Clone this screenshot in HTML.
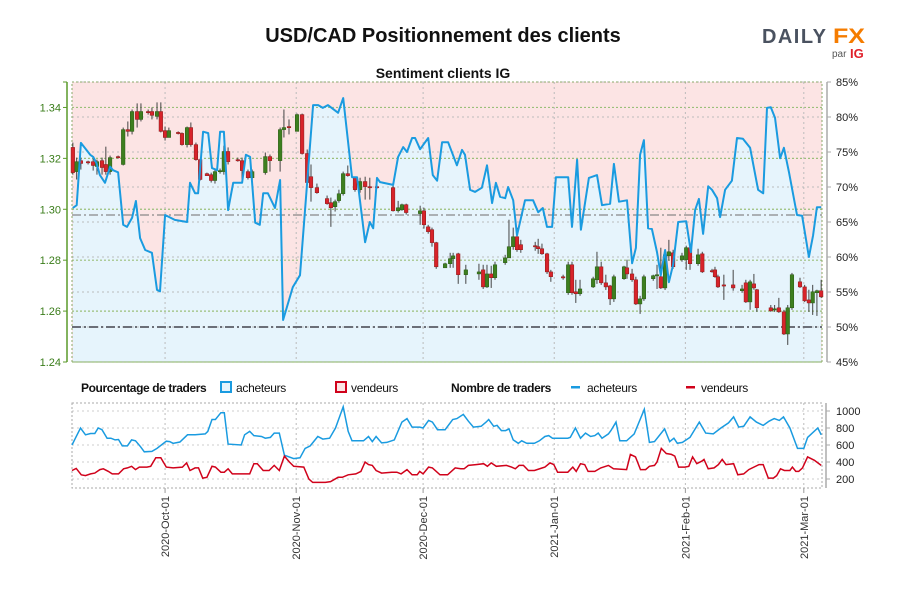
<!DOCTYPE html>
<html><head><meta charset="utf-8"><style>
body{margin:0;background:#fff;width:900px;height:600px;overflow:hidden;font-family:"Liberation Sans",sans-serif}
svg{display:block}
</style></head><body>
<svg id="chart" width="900" height="600" viewBox="0 0 900 600" xmlns="http://www.w3.org/2000/svg">
<text x="443" y="42" text-anchor="middle" font-size="20" font-weight="bold" fill="#111">USD/CAD Positionnement des clients</text>
<g>
<text x="762" y="43" font-size="20" font-weight="bold" fill="#4a5260" textLength="64" lengthAdjust="spacing">DAILY</text>
<text x="833" y="43" font-size="21" font-weight="bold" fill="#f57c00" textLength="32" lengthAdjust="spacingAndGlyphs">FX</text>
<text x="832" y="57" font-size="10" fill="#555">par</text>
<text x="850" y="58" font-size="13" font-weight="bold" fill="#e0202a">IG</text>
</g>
<text x="443" y="78" text-anchor="middle" font-size="14" font-weight="bold" fill="#111">Sentiment clients IG</text>
<g id="main"></g>
<g id="bottom"></g>
<g font-size="12" fill="#111">
<text x="81" y="392" font-weight="bold" letter-spacing="-0.4">Pourcentage de traders</text>
<rect x="221" y="382" width="10" height="10" fill="#e6f4fc" stroke="#1a9be0" stroke-width="2"/>
<text x="236" y="392" letter-spacing="-0.3">acheteurs</text>
<rect x="336" y="382" width="10" height="10" fill="#fce4e4" stroke="#d0021b" stroke-width="2"/>
<text x="351" y="392" letter-spacing="-0.3">vendeurs</text>
<text x="451" y="392" font-weight="bold" letter-spacing="-0.4">Nombre de traders</text>
<rect x="571" y="386" width="9" height="2.5" fill="#1a9be0"/>
<text x="587" y="392" letter-spacing="-0.3">acheteurs</text>
<rect x="686" y="386" width="9" height="2.5" fill="#d0021b"/>
<text x="701" y="392" letter-spacing="-0.3">vendeurs</text>
</g>
</svg>
<script>
// day 0 = 2020-09-09
const sentDays=[0.2,1.1,2.1,4.3,5.0,5.8,6.6,7.8,9.0,9.7,10.9,12.1,13.0,14.2,15.1,16.1,17.3,18.9,20.1,20.8,22.0,24.3,27.2,27.9,29.1,29.8,31.0,32.2,33.1,34.3,35.0,35.9,36.9,38.1,40.2,41.1,42.1,43.3,44.4,45.2,46.3,48.0,49.2,49.9,52.2,53.9,55.6,57.0,58.2,59.3,60.5,62.9,64.1,66.2,67.4,69.3,70.4,71.2,72.1,72.8,75.9,77.1,78.3,79.2,80.4,81.1,82.3,84.2,85.3,86.3,87.5,88.9,91.0,92.2,92.9,94.1,95.3,96.9,98.1,99.3,100.2,101.2,102.4,103.1,104.3,105.2,107.1,109.0,110.2,111.3,112.3,113.5,114.4,117.3,118.2,119.4,120.3,122.2,124.1,125.3,127.2,128.1,129.3,131.2,132.4,133.3,134.3,135.2,136.2,137.1,138.3,139.2,140.2,141.1,142.1,143.3,145.2,146.3,147.3,148.2,149.2,150.4,151.3,152.5,153.2,154.4,156.0,157.2,158.6,160.3,162.2,163.4,164.3,165.2,166.2,167.4,168.3,169.5,171.4,172.6,174.2,175.2,176.1,177.1];
const sentPct=[67.0,67.4,76.3,74.6,74.3,73.4,71.7,70.6,72.9,72.4,72.1,64.6,64.3,65.6,68.0,62.7,61.0,60.6,55.3,55.1,66.0,65.3,65.0,70.6,69.1,69.1,77.9,77.7,72.7,72.4,77.9,77.9,66.7,70.6,70.6,74.6,74.3,64.9,64.6,69.1,69.1,67.0,71.0,51.0,55.7,57.4,70.7,81.7,81.7,81.3,81.7,80.6,82.7,71.4,71.4,62.1,65.0,64.1,71.3,70.7,70.3,74.3,75.7,75.0,77.0,77.0,75.4,77.0,71.7,70.9,76.4,76.4,73.1,75.3,74.6,69.6,69.3,69.9,73.1,67.7,70.6,68.6,68.4,70.0,68.1,63.1,68.1,68.1,66.4,67.0,64.3,64.3,71.4,71.4,64.3,73.9,63.9,71.3,71.7,67.4,67.6,73.3,67.9,68.1,59.1,61.3,74.6,76.7,64.1,64.0,60.7,57.4,61.0,56.4,58.9,65.0,65.1,60.7,66.7,68.3,63.3,70.1,69.6,68.4,65.7,69.6,70.9,77.0,76.9,75.6,69.6,69.1,81.3,81.4,79.9,74.1,75.6,72.1,66.0,65.9,60.0,63.1,67.1,67.1];
const candleDays=[0.2,1.1,2.1,3.8,5.0,5.9,7.1,8.0,9.0,10.9,12.1,13.2,14.2,15.4,16.3,18.0,18.9,20.1,21.0,22.0,22.9,25.1,26.0,27.2,28.1,29.3,30.3,31.9,32.9,33.8,35.0,35.9,36.9,39.2,40.2,41.6,42.6,45.7,46.8,49.2,50.1,51.3,53.2,54.4,55.6,56.5,57.9,60.3,61.2,62.2,63.1,64.1,65.2,66.9,68.1,69.3,70.4,72.1,75.9,77.1,78.0,79.0,82.3,83.2,84.2,85.1,86.1,88.2,89.4,90.1,91.3,93.1,96.2,97.2,98.1,99.1,100.0,102.4,103.3,104.3,105.2,106.1,109.5,110.2,111.1,112.3,113.2,116.1,117.3,118.2,119.1,120.1,123.2,124.1,125.1,126.2,127.2,128.1,130.5,131.2,132.4,133.3,134.3,135.2,137.4,138.3,139.2,140.2,141.1,142.1,144.2,145.2,146.1,148.0,149.0,151.3,152.0,152.7,154.1,156.3,158.4,159.3,160.3,161.2,161.9,165.2,166.1,167.1,168.3,169.2,170.2,172.1,173.2,174.2,175.1,176.1,177.1];
const candleOpen=[1.3243,1.3148,1.3191,1.3187,1.3187,1.3168,1.3191,1.3176,1.3148,1.3207,1.3176,1.3313,1.3306,1.3384,1.3353,1.3384,1.3384,1.3365,1.3384,1.3309,1.3282,1.3302,1.3298,1.3254,1.3321,1.3254,1.3195,1.3140,1.3136,1.3113,1.3148,1.3148,1.3227,1.3195,1.3191,1.3148,1.3124,1.3144,1.3207,1.3191,1.3313,1.3325,1.3306,1.3372,1.3219,1.3128,1.3085,1.3042,1.3026,1.3010,1.3034,1.3061,1.3140,1.3124,1.3077,1.3109,1.3089,1.3089,1.3085,1.2994,1.2998,1.3018,1.2983,1.2994,1.2931,1.2920,1.2869,1.2770,1.2786,1.2806,1.2825,1.2743,1.2746,1.2762,1.2695,1.2746,1.2731,1.2790,1.2809,1.2853,1.2892,1.2861,1.2857,1.2853,1.2845,1.2825,1.2754,1.2735,1.2672,1.2782,1.2676,1.2668,1.2695,1.2723,1.2774,1.2711,1.2699,1.2648,1.2727,1.2770,1.2746,1.2723,1.2628,1.2648,1.2727,1.2739,1.2735,1.2691,1.2817,1.2829,1.2802,1.2802,1.2849,1.2786,1.2825,1.2759,1.2762,1.2735,1.2703,1.2703,1.2680,1.2711,1.2636,1.2707,1.2684,1.2613,1.2605,1.2613,1.2597,1.2510,1.2613,1.2715,1.2695,1.2644,1.2632,1.2672,1.2680];
const candleClose=[1.3144,1.3187,1.3180,1.3185,1.3172,1.3187,1.3164,1.3148,1.3203,1.3203,1.3313,1.3306,1.3384,1.3353,1.3384,1.3380,1.3369,1.3384,1.3306,1.3282,1.3309,1.3298,1.3254,1.3321,1.3254,1.3195,1.3117,1.3132,1.3113,1.3148,1.3152,1.3227,1.3187,1.3193,1.3152,1.3124,1.3148,1.3207,1.3191,1.3313,1.3321,1.3321,1.3372,1.3219,1.3105,1.3085,1.3065,1.3022,1.3006,1.3030,1.3061,1.3140,1.3132,1.3077,1.3109,1.3089,1.3087,1.3085,1.2994,1.3006,1.3018,1.2987,1.2994,1.2939,1.2912,1.2869,1.2774,1.2786,1.2806,1.2817,1.2743,1.2762,1.2754,1.2695,1.2746,1.2731,1.2782,1.2809,1.2853,1.2892,1.2841,1.2841,1.2853,1.2845,1.2825,1.2754,1.2735,1.2733,1.2782,1.2672,1.2668,1.2687,1.2727,1.2774,1.2711,1.2695,1.2648,1.2735,1.2774,1.2746,1.2723,1.2628,1.2648,1.2735,1.2739,1.2743,1.2691,1.2821,1.2833,1.2774,1.2817,1.2849,1.2786,1.2821,1.2754,1.2757,1.2735,1.2695,1.2701,1.2691,1.2687,1.2636,1.2715,1.2691,1.2613,1.2601,1.2609,1.2597,1.2510,1.2613,1.2743,1.2695,1.2640,1.2632,1.2676,1.2680,1.2656];
const candleHigh=[1.3262,1.3203,1.3203,1.3191,1.3203,1.3195,1.3203,1.3246,1.3211,1.3211,1.3321,1.3345,1.3392,1.3416,1.3416,1.3392,1.3400,1.3420,1.3420,1.3325,1.3321,1.3306,1.3302,1.3325,1.3341,1.3262,1.3199,1.3144,1.3144,1.3156,1.3160,1.3250,1.3243,1.3203,1.3203,1.3156,1.3156,1.3223,1.3215,1.3321,1.3392,1.3353,1.3376,1.3376,1.3235,1.3176,1.3101,1.3054,1.3046,1.3038,1.3077,1.3148,1.3172,1.3128,1.3124,1.3128,1.3124,1.3097,1.3093,1.3033,1.3022,1.3022,1.3014,1.3006,1.2939,1.2928,1.2872,1.2790,1.2829,1.2829,1.2829,1.2782,1.2786,1.2782,1.2782,1.2778,1.2794,1.2821,1.2959,1.2928,1.2928,1.2880,1.2872,1.2884,1.2865,1.2829,1.2762,1.2743,1.2794,1.2794,1.2723,1.2723,1.2735,1.2833,1.2794,1.2743,1.2703,1.2743,1.2778,1.2802,1.2766,1.2735,1.2660,1.2743,1.2743,1.2782,1.2849,1.2841,1.2880,1.2841,1.2829,1.2857,1.2869,1.2845,1.2833,1.2766,1.2774,1.2743,1.2743,1.2762,1.2703,1.2723,1.2723,1.2746,1.2687,1.2624,1.2624,1.2652,1.2605,1.2624,1.2750,1.2731,1.2703,1.2684,1.2703,1.2684,1.2723];
const candleLow=[1.3136,1.3117,1.3156,1.3176,1.3152,1.3136,1.3136,1.3136,1.3136,1.3199,1.3172,1.3286,1.3294,1.3321,1.3345,1.3372,1.3353,1.3353,1.3302,1.3270,1.3282,1.3294,1.3250,1.3243,1.3246,1.3191,1.3113,1.3132,1.3105,1.3101,1.3140,1.3136,1.3176,1.3187,1.3117,1.3117,1.3117,1.3136,1.3148,1.3148,1.3282,1.3294,1.3306,1.3215,1.3101,1.3030,1.3061,1.3018,1.2931,1.2991,1.3026,1.3054,1.3128,1.3069,1.3065,1.3038,1.3038,1.3081,1.2991,1.2987,1.2994,1.2979,1.2939,1.2924,1.2904,1.2853,1.2766,1.2770,1.2770,1.2770,1.2707,1.2707,1.2723,1.2687,1.2691,1.2691,1.2723,1.2782,1.2809,1.2841,1.2833,1.2829,1.2837,1.2825,1.2821,1.2746,1.2715,1.2723,1.2664,1.2664,1.2632,1.2660,1.2691,1.2707,1.2703,1.2683,1.2624,1.2636,1.2723,1.2727,1.2715,1.2624,1.2589,1.2640,1.2719,1.2687,1.2687,1.2683,1.2798,1.2766,1.2794,1.2762,1.2762,1.2778,1.2750,1.2751,1.2731,1.2691,1.2644,1.2680,1.2672,1.2632,1.2605,1.2684,1.2597,1.2597,1.2597,1.2593,1.2506,1.2467,1.2605,1.2691,1.2636,1.2597,1.2585,1.2581,1.2652];
const buyDays=[0,0.8,2.0,3.2,4.4,5.4,6.2,7.1,8.3,9.2,10.2,11.0,11.9,13.1,14.1,15.0,16.2,17.1,18.9,20.1,22.3,23.1,23.9,25.5,27.3,29.1,31.5,32.1,33.1,33.9,35.2,36.0,36.9,40.0,40.8,42.0,43.0,44.8,45.7,46.9,47.8,49.0,50.2,52.4,53.9,55.1,56.3,58.1,59.3,60.9,62.3,64.1,65.3,66.2,68.9,70.1,71.0,71.9,73.2,74.4,76.2,78.0,79.2,80.4,82.2,83.0,84.3,85.2,86.4,88.2,90.0,91.0,92.5,93.7,94.9,96.7,97.9,98.5,99.7,100.5,101.5,102.5,103.3,104.3,105.5,106.3,107.5,109.3,110.5,111.8,112.7,113.6,117.2,117.8,119.0,120.2,121.4,122.6,123.6,124.4,125.3,126.8,127.4,128.6,129.5,131.1,132.9,135.3,136.5,137.7,140.1,141.3,142.3,143.1,144.3,146.1,148.3,149.8,151.6,153.4,155.2,156.4,157.6,158.8,160.3,161.8,163.4,164.8,166.0,167.2,168.2,169.7,171.5,173.0,173.9,176.3,177.1];
const buyVals=[600,680,800,720,735,735,800,780,680,680,660,665,590,590,660,650,580,520,525,560,645,640,620,635,720,720,730,760,900,900,980,980,610,600,720,760,710,700,680,690,740,740,480,440,450,560,590,700,670,680,800,1050,760,650,650,700,640,700,625,630,660,870,910,810,810,800,890,870,780,780,900,910,960,880,810,820,870,900,820,830,770,770,790,660,620,650,620,620,650,700,710,680,680,690,800,680,740,700,710,740,680,730,770,870,650,650,730,1020,630,640,790,640,680,620,630,690,870,740,730,800,860,930,810,820,930,870,830,880,910,890,930,800,560,560,690,800,720];
const sellDays=[0,1.0,2.2,3.2,4.4,5.4,6.6,7.4,8.6,9.5,11.0,12.2,13.1,14.1,15.0,15.9,17.7,18.6,19.8,21.0,22.3,23.9,26.1,27.1,27.9,29.1,29.9,30.9,31.9,33.1,33.9,35.2,36.0,36.9,37.9,40.6,42.0,43.0,43.8,45.2,46.6,47.8,49.0,50.2,51.4,52.4,54.8,56.0,56.9,59.9,61.1,62.9,63.9,65.3,67.1,68.3,69.3,70.1,71.0,71.9,73.2,75.6,76.8,77.8,79.2,80.4,81.6,82.2,83.0,84.3,85.2,87.0,88.8,90.6,91.9,92.7,93.7,95.5,97.3,98.2,99.1,100.3,102.7,103.9,104.8,105.7,106.7,107.9,109.3,111.2,111.8,113.0,113.9,114.8,117.2,118.4,119.2,120.2,121.2,122.0,123.6,125.0,126.8,128.0,131.1,132.0,133.2,134.4,135.6,136.5,137.7,138.3,139.3,140.5,141.7,142.5,143.4,144.9,145.8,146.7,147.7,148.9,149.4,150.4,151.8,152.8,153.7,154.6,156.4,157.4,158.8,160.0,162.4,163.4,164.6,165.8,166.6,167.5,168.4,169.7,170.3,171.1,171.8,172.7,173.9,175.5,177.1];
const sellVals=[300,325,250,240,260,270,310,320,290,260,260,320,330,350,310,340,340,350,450,450,340,330,340,390,300,330,330,210,220,350,340,280,280,320,260,260,260,380,380,300,300,360,300,470,400,350,340,200,160,160,170,220,220,250,260,290,400,370,360,300,270,280,280,260,310,250,250,290,260,340,330,250,250,330,320,320,360,370,380,350,390,350,360,340,320,360,360,300,300,330,340,390,370,280,280,340,290,380,370,290,290,330,360,320,310,490,460,310,310,350,360,400,560,500,490,470,340,340,350,460,380,410,430,320,330,370,430,370,380,250,260,310,370,370,210,210,240,320,300,300,340,290,290,330,460,420,360];
const monthDays=[22,53,83,114,145,173];
const monthLabels=["2020-Oct-01","2020-Nov-01","2020-Dec-01","2021-Jan-01","2021-Feb-01","2021-Mar-01"];
const priceTicks=[1.24,1.26,1.28,1.30,1.32,1.34];
const pctTicks=[45,50,55,60,65,70,75,80,85];
const countTicks=[200,400,600,800,1000];
const refLines=[66,50];

const NS="http://www.w3.org/2000/svg";
const X0=72,X1=822,D0=0,D1=177.3;
const xs=d=>X0+(d-D0)/(D1-D0)*(X1-X0);
const T=82,B=362;
const yp=p=>B-(p-1.24)/(1.35-1.24)*(B-T);
const yq=q=>B-(q-45)/(85-45)*(B-T);
const BT=403,BB=488;
const yc=v=>411+(1000-v)*(479-411)/800;
function el(tag,attrs,parent){const e=document.createElementNS(NS,tag);for(const k in attrs)e.setAttribute(k,attrs[k]);parent.appendChild(e);return e;}
const main=document.getElementById('main');


let bg=el('rect',{x:X0,y:T,width:X1-X0,height:B-T,fill:'#fce4e4'},main);


let pts=sentDays.map((d,i)=>xs(d).toFixed(1)+','+yq(sentPct[i]).toFixed(1));
let area=el('polygon',{points:xs(sentDays[0])+','+B+' '+pts.join(' ')+' '+xs(sentDays[sentDays.length-1])+','+B,fill:'#e6f4fc'},main);


pctTicks.forEach(p=>{let g=el('line',{x1:X0,x2:X1,y1:yq(p),y2:yq(p),stroke:'#bbb','stroke-dasharray':'2,3','stroke-width':1},main);

});
priceTicks.forEach(p=>{let g=el('line',{x1:X0,x2:X1,y1:yp(p),y2:yp(p),stroke:'#9bbf7a','stroke-dasharray':'2,2','stroke-width':1.2},main);

});
monthDays.forEach(d=>{let g=el('line',{x1:xs(d),x2:xs(d),y1:T,y2:B,stroke:'#bbb','stroke-dasharray':'2,3'},main);

});
let fr=el('rect',{x:X0,y:T,width:X1-X0,height:B-T,fill:'none',stroke:'#8aa86a','stroke-dasharray':'2,2'},main);


refLines.forEach((p,i)=>{let g=el('line',{x1:X0,x2:X1,y1:yq(p),y2:yq(p),stroke:i?'#6b6f78':'#888','stroke-width':i?2:1.3,'stroke-dasharray':'9,3,2,3'},main);

});
candleDays.forEach((d,i)=>{const o=candleOpen[i],c=candleClose[i],x=xs(d);
const up=c>=o;
let w=el('line',{x1:x,x2:x,y1:yp(candleHigh[i]),y2:yp(candleLow[i]),stroke:'#444','stroke-width':1},main);


let top=yp(Math.max(o,c)),h=Math.max(1.2,Math.abs(yp(o)-yp(c)));
let r=el('rect',{x:x-1.8,y:top,width:3.6,height:h,fill:up?'#3d7f1f':'#d8232a',stroke:up?'#2a5a14':'#8a1a1a','stroke-width':0.5},main);

});
let sl=el('polyline',{points:pts.join(' '),fill:'none',stroke:'#1a9be0','stroke-width':2,'stroke-linejoin':'round'},main);


let la=el('line',{x1:67,x2:67,y1:T,y2:B,stroke:'#5a9a2a','stroke-width':1.5},main);


priceTicks.forEach(p=>{let t=el('line',{x1:63,x2:67,y1:yp(p),y2:yp(p),stroke:'#5a9a2a'},main);


let tx=el('text',{x:61,y:yp(p)+4,'text-anchor':'end','font-size':11,fill:'#3a7d1a'},main);


tx.textContent=p.toFixed(2);});
[T,B].forEach(y=>{let t=el('line',{x1:63,x2:67,y1:y,y2:y,stroke:'#5a9a2a'},main);

});
let ra=el('line',{x1:827,x2:827,y1:T,y2:B,stroke:'#aaa','stroke-width':1.5},main);


pctTicks.forEach(p=>{let t=el('line',{x1:827,x2:831,y1:yq(p),y2:yq(p),stroke:'#aaa'},main);


let tx=el('text',{x:836,y:yq(p)+4,'font-size':11,fill:'#222'},main);


tx.textContent=p+'%';});
const bot=document.getElementById('bottom');


countTicks.forEach(v=>{let g=el('line',{x1:X0,x2:X1,y1:yc(v),y2:yc(v),stroke:'#ccc','stroke-dasharray':'2,3'},bot);


let t=el('line',{x1:826,x2:830,y1:yc(v),y2:yc(v),stroke:'#aaa'},bot);


let tx=el('text',{x:836,y:yc(v)+4,'font-size':11,fill:'#222'},bot);


tx.textContent=v;});
monthDays.forEach((d,i)=>{let g=el('line',{x1:xs(d),x2:xs(d),y1:BT,y2:BB,stroke:'#bbb','stroke-dasharray':'2,3'},bot);


let t=el('line',{x1:xs(d),x2:xs(d),y1:BB,y2:BB+5,stroke:'#999'},bot);


let tx=el('text',{x:0,y:0,'font-size':11,fill:'#333','text-anchor':'end',transform:'translate('+(xs(d)+4)+','+(BB+8)+') rotate(-90)'},bot);


tx.textContent=monthLabels[i];});
let bf=el('rect',{x:X0,y:BT,width:X1-X0,height:BB-BT,fill:'none',stroke:'#aaa','stroke-dasharray':'2,2'},bot);


let bra=el('line',{x1:826,x2:826,y1:BT,y2:BB,stroke:'#aaa','stroke-width':1.5},bot);


let bl=el('polyline',{points:buyDays.map((d,i)=>xs(d).toFixed(1)+','+yc(buyVals[i]).toFixed(1)).join(' '),fill:'none',stroke:'#1a9be0','stroke-width':1.5},bot);


let rl=el('polyline',{points:sellDays.map((d,i)=>xs(d).toFixed(1)+','+yc(sellVals[i]).toFixed(1)).join(' '),fill:'none',stroke:'#d0021b','stroke-width':1.5},bot);


</script>
</body></html>
